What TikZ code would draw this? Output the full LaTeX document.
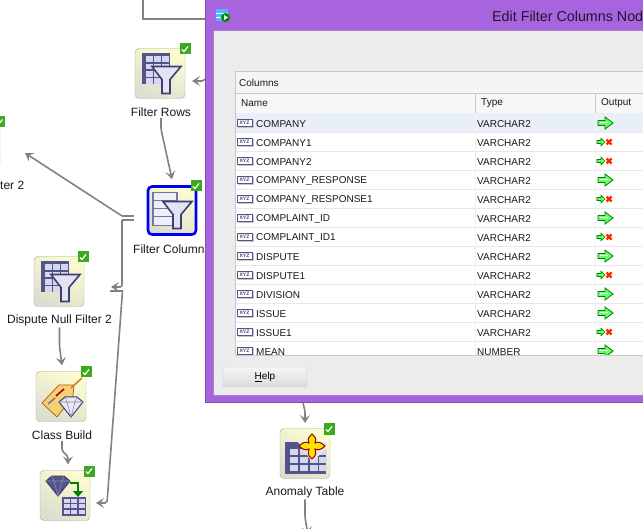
\documentclass[tikz,border=0pt]{standalone}
\usepackage{fontspec}
\setmainfont{Liberation Sans}
\usetikzlibrary{arrows.meta,calc}
\definecolor{mypurple}{RGB}{167,100,222}
\definecolor{mypurpledark}{RGB}{125,80,165}
\definecolor{mypanel}{RGB}{236,236,236}
\definecolor{myrule}{RGB}{200,200,200}
\definecolor{myrow}{RGB}{232,239,247}
\definecolor{myconn}{RGB}{130,130,130}
\definecolor{mytable}{RGB}{84,84,140}
\definecolor{mycell}{RGB}{215,215,238}
\definecolor{myfunnel}{RGB}{62,62,112}
\definecolor{mycreamA}{RGB}{252,252,208}
\definecolor{mycreamB}{RGB}{222,222,208}
\definecolor{mygreen}{RGB}{60,170,30}
\definecolor{mygold}{RGB}{244,208,120}
\tikzset{
  tile/.style={draw=gray!70,rounded corners=4pt,minimum size=50pt,inner sep=0pt,top color=mycreamA,bottom color=mycreamB,shading angle=-30},
  lbl/.style={font=\fontsize{12}{14}\selectfont,inner sep=0pt,text=black!90},
  cell/.style={font=\fontsize{10}{12}\selectfont,inner sep=0pt,anchor=west,text=black!90},
  conn/.style={draw=myconn,line width=1.6pt,rounded corners=2pt,-{Stealth[length=8pt,width=10pt,inset=3.5pt]}},
  stub/.style={draw=myconn,line width=1.6pt},
  pics/badge/.style={code={
    \fill[mygreen] (-5.5,-5.5) rectangle (5.5,5.5);
    \draw[white,line width=1.2pt] (-3,0.5) -- (-1,2.5) -- (3,-2.5);
  }},
  pics/funnel/.style={code={
    \draw[myfunnel,line width=1.6pt,fill=mycell!70!white] (-8,-7) -- (21,-7) -- (10,6) -- (10,20) -- (2,20) -- (2,6) -- cycle;
  }},
  pics/rowsicon/.style={code={
    \fill[mytable] (-18,-20) rectangle (10,11);
    \foreach \x in {-14,-6,2} \foreach \y in {-17,-9.5,-2,5}
      \fill[mycell] (\x,\y) rectangle ++(6.5,5.5);
    \pic {funnel};
  }},
  pics/colsicon/.style={code={
    \draw[mytable!80,line width=1.5pt,fill=mycell!40] (-19,-18) rectangle (5,15);
    \draw[mytable!80,line width=1.2pt] (-19,-10) -- (5,-10) (-19,-2) -- (5,-2) (-19,6) -- (5,6);
    \pic at (-1,-2) {funnel};
  }},
  pics/gem/.style={code={
    \draw[myfunnel,line width=1pt,fill=#1] (-12,-5) -- (-6,-10) -- (6,-10) -- (12,-5) -- (0,10) -- cycle;
    \draw[myfunnel!60,line width=.6pt] (-12,-5) -- (12,-5) (-4,-5) -- (0,10) -- (4,-5) (-6,-10) -- (-4,-5) (6,-10) -- (4,-5);
  }},
  pics/gridicon/.style={code={
    \fill[mytable] (0,0) rectangle (24,19);
    \foreach \x in {1.5,9,16.5} \foreach \y in {1.5,7,13}
      \fill[mycell] (\x,\y) rectangle ++(6,4);
  }},
  pics/outfull/.style={code={
    \draw[green!50!black,fill=white!40!green,line width=.8pt] (-7,-2.5) -- (0,-2.5) -- (0,-6) -- (8,0) -- (0,6) -- (0,2.5) -- (-7,2.5) -- cycle;
    \draw[white,line width=1pt] (-5,0) -- (3,0);
  }},
  pics/outdrop/.style={code={
    \draw[green!50!black,fill=white!40!green,line width=.6pt] (-8,-1.5) -- (-4,-1.5) -- (-4,-3.8) -- (0,0) -- (-4,3.8) -- (-4,1.5) -- (-8,1.5) -- cycle;
    \draw[red!70!orange,line width=2.2pt] (1.5,-2.5) -- (6.5,2.5) (1.5,2.5) -- (6.5,-2.5);
  }},
  pics/xyzicon/.style={code={
    \fill[gray!45] (-7,-3) rectangle (9,5);
    \draw[mytable,fill=white,line width=.8pt] (-8,-4) rectangle (7,3.5);
    \node[font=\fontsize{5}{5}\selectfont\bfseries,text=myfunnel,inner sep=0pt] (xyzlabel) at (-0.5,-0.2) {XYZ};
  }}
}
\begin{document}
\begin{tikzpicture}[x=1pt,y=-1pt]
  \clip (0,0) rectangle (643,529);
  \fill[white] (0,0) rectangle (643,529);

  \node[tile] (tileleft) at (-25,143) {};
  \node[tile] (tilerows) at (160,73.5) {};
  \node[tile,draw=blue!95!black,line width=2.6pt,minimum size=48pt] (tilecols) at (172,210.5) {};
  \node[tile] (tiledispute) at (59,281.5) {};
  \node[tile] (tileclass) at (61,396.5) {};
  \node[tile] (tileapply) at (65,495.5) {};
  \node[tile] (tileanomaly) at (305,453.5) {};

  \node[lbl,anchor=west] (lblleft) at (0,185.5) {ter 2};
  \node[lbl] (lblrows) at (161,112.5) {Filter Rows};
  \node[lbl,anchor=west] (lblcols) at (133,249.5) {Filter Columns};
  \node[lbl] (lbldispute) at (59.5,320.5) {Dispute Null Filter 2};
  \node[lbl] (lblclass) at (62,435.5) {Class Build};
  \node[lbl] (lblanomaly) at (305,492.5) {Anomaly Table};

  \pic at (tilerows) {rowsicon};
  \pic at (tilecols) {colsicon};
  \pic at (tiledispute) {rowsicon};

  \fill[mygold,draw=orange!70!black,line width=.7pt] (42,403) -- (59,385) -- (74,385) -- (73,396) -- (57,417) -- cycle;
  \draw[brown,line width=1.5pt] (71,388) -- (82,378);
  \draw[red!70!black,line width=1.6pt] (56,396) -- (64,389);
  \draw[gray,line width=1.6pt] (48,404) -- (55,398);
  \pic at (71,407) {gem=mycell!60};

  \pic at (58,486) {gem=mytable};
  \draw[green!50!black,line width=2.6pt,-{Stealth[length=6pt,width=10pt,inset=0pt]}] (70,483) -- (78,483) -- (78,497);
  \pic at (62,497) {gridicon};

  \fill[mytable] (285,442) rectangle (326,474);
  \foreach \x in {290,300,310,319} \foreach \y in {449,457,465}
    \fill[mycell] (\x,\y) rectangle ++(7.5,6);
  \fill[white!85!mytable] (298,442) -- (326,442) -- (326,449) -- (312,462) -- cycle;
  \draw[red!60!black,line width=1pt,fill=yellow!85!orange] (312,434) .. controls (317,438) and (316,441) .. (315,443) .. controls (318,441) and (322,443) .. (325,446) .. controls (322,449) and (318,451) .. (315,449) .. controls (316,452) and (317,455) .. (312,459) .. controls (307,455) and (308,452) .. (309,449) .. controls (306,451) and (302,449) .. (299,446) .. controls (302,443) and (306,441) .. (309,443) .. controls (308,441) and (307,438) .. (312,434) -- cycle;

  \foreach \x/\y in {-0.5/122,185/49,196/186,83/257,86/372,89/471,329/429}
    \pic at (\x,\y) {badge};

  \coordinate (topa) at (143,0);
  \coordinate (topb) at (143,19);
  \coordinate (topc) at (206,19);
  \coordinate (rowsin) at (206,78);
  \coordinate (rowstip) at (192,81);
  \coordinate (colsup) at (134,216);
  \coordinate (colsdown) at (134,220);
  \coordinate (splitA) at (122,216);
  \coordinate (splitB) at (122,220);
  \coordinate (lefttip) at (25,153);
  \coordinate (disputetip) at (111,287);
  \coordinate (stubend) at (110,291);
  \coordinate (stubknee) at (122.5,291);
  \coordinate (applytip) at (96,503);
  \coordinate (anomalyin) at (303,403);
  \coordinate (anomalytip) at (305,423);
  \coordinate (anomalyout) at (308,535);

  \draw[stub] (topa) -- (topb) -- (topc);
  \draw[conn] (rowsin) -- ++(-2,3) -- (rowstip);
  \draw[conn] (lblrows.south) ++(0,1) -- ++(0,11) -- ([yshift=6pt]tilecols.north);
  \draw[stub] (colsup) -- (splitA);
  \draw[conn,rounded corners=0pt] (splitA) -- (lefttip);
  \draw[stub] (colsdown) -- (splitB);
  \draw[conn] (splitB) -- (122,287) -- (disputetip);
  \draw[stub] (stubend) -- (stubknee);
  \draw[conn] (stubknee) -- (107,503) -- (applytip);
  \draw[conn] (lbldispute.south) ++(0,1) -- ++(0,19) -- ([yshift=6pt,xshift=1pt]tileclass.north);
  \draw[conn] (lblclass.south) ++(0,1) -- ++(0,10) -- ++(6,5) -- ([yshift=6pt,xshift=3pt]tileapply.north);
  \draw[conn] (anomalyin) -- ++(2,8) -- (anomalytip);
  \draw[conn] (lblanomaly.south) ++(0,1) -- ++(0,18) -- (anomalyout);

  \fill[mypurple,draw=mypurpledark,line width=1pt] (205.5,-2) rectangle (650,403);
  \fill[mypanel,draw=mypurpledark!70,line width=.6pt] (213,30) rectangle (650,395);

  \fill[blue!40!cyan!70!white] (216,9) rectangle (228,21);
  \draw[white,line width=.6pt] (216,13) -- (228,13) (216,17) -- (228,17);
  \fill[green!55!black] (225.5,17.5) circle (4.5pt);
  \fill[white] (224,15) -- (228,17.5) -- (224,20) -- cycle;
  \node[font=\fontsize{14.3}{16}\selectfont,text=black!80!mypurple,inner sep=0pt,anchor=west] (title) at (492,16) {Edit Filter Columns Nod};

  \draw[myrule,fill=white] (235.5,71.5) rectangle (650,355.5);
  \fill[gray!8] (236,72) rectangle (650,93);
  \node[cell] (hcolumns) at (239,82.5) {Columns};
  \draw[myrule,line width=.8pt] (236,93) -- (650,93);
  \fill[gray!6] (236,94) rectangle (650,113);
  \node[cell] (hname) at (241,103.5) {Name};
  \node[cell] (htype) at (481,103.5) {Type};
  \node[cell] (houtput) at (601,103.5) {Output};
  \draw[myrule,line width=.8pt] (236,113) -- (650,113);
  \fill[myrow] (236,113.5) rectangle (650,132.5);
  \begin{scope}
    \clip (236,113) rectangle (650,355);
    \foreach \y/\na/\ty/\ou [count=\i] in {123/COMPANY/VARCHAR2/outfull,142/COMPANY1/VARCHAR2/outdrop,161/COMPANY2/VARCHAR2/outdrop,180/COMPANY\_RESPONSE/VARCHAR2/outfull,199/COMPANY\_RESPONSE1/VARCHAR2/outdrop,218/COMPLAINT\_ID/VARCHAR2/outfull,237/COMPLAINT\_ID1/VARCHAR2/outdrop,256/DISPUTE/VARCHAR2/outfull,275/DISPUTE1/VARCHAR2/outdrop,294/DIVISION/VARCHAR2/outfull,313/ISSUE/VARCHAR2/outfull,332/ISSUE1/VARCHAR2/outdrop,351/MEAN/NUMBER/outfull} {
      \draw[gray!18] (236,\y+9.5) -- (650,\y+9.5);
      \pic at (245,\y) {xyzicon};
      \node[cell] (name\i) at (256,\y+.7) {\na};
      \node[cell] (type\i) at (477,\y+.7) {\ty};
      \pic at (605,\y) {\ou};
    }
  \end{scope}
  \draw[myrule,line width=.8pt] (475.5,93) -- (475.5,113) (595.5,93) -- (595.5,113);
  \draw[gray!12] (475.5,113) -- (475.5,355) (595.5,113) -- (595.5,355);

  \node[draw=myrule,rounded corners=2pt,minimum width=84pt,minimum height=20pt,inner sep=0pt,top color=gray!8,bottom color=gray!28,font=\fontsize{10}{12}\selectfont] (help) at (265,377) {\underline{H}elp};
\end{tikzpicture}
\end{document}
